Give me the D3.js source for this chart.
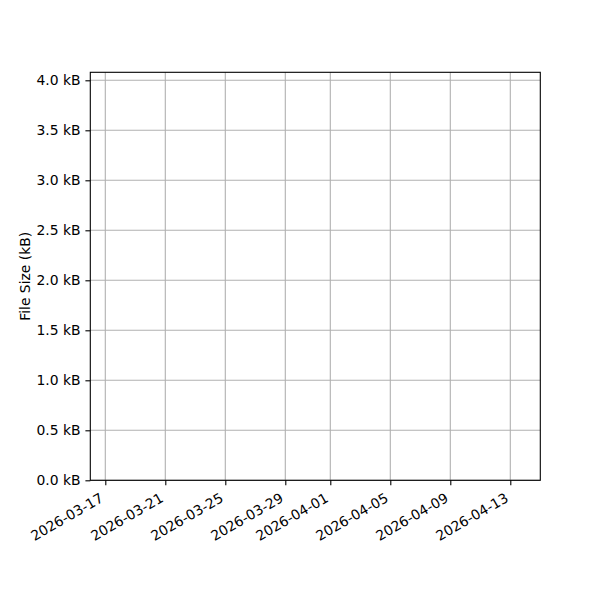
<!DOCTYPE html>
<html>
<head>
<meta charset="utf-8">
<script src="https://cdn.jsdelivr.net/npm/d3@7"></script>
<style>
  html, body { margin: 0; padding: 0; background: #fff; }
  text { font-family: "DejaVu Sans", sans-serif; }
</style>
</head>
<body>
<div id="chart"></div>
<script>
// Data (the reference shows empty axes: no recorded points)
const dates = [];
const fileSizesKB = [];

const xTickLabels = ["2026-03-17", "2026-03-21", "2026-03-25", "2026-03-29",
                     "2026-04-01", "2026-04-05", "2026-04-09", "2026-04-13"];
const yTickValues = [0, 0.5, 1.0, 1.5, 2.0, 2.5, 3.0, 3.5, 4.0];
const xDomain = ["2026-03-16", "2026-04-15"];
const yDomain = [0, 4.08];

const W = 600, H = 600;
const margin = { left: 90.3, right: 59.7, top: 72.3, bottom: 119.7 };
const iw = W - margin.left - margin.right;
const ih = H - margin.top - margin.bottom;

const parse = d3.utcParse("%Y-%m-%d");
const x = d3.scaleUtc().domain(xDomain.map(parse)).range([0, iw]);
const y = d3.scaleLinear().domain(yDomain).range([ih, 0]);

const svg = d3.select("#chart").append("svg")
  .attr("width", W).attr("height", H);
const g = svg.append("g").attr("transform", `translate(${margin.left},${margin.top})`);

const xTicks = xTickLabels.map(parse);

// grid
g.append("g").selectAll("line.vg").data(xTicks).join("line")
  .attr("x1", d => x(d)).attr("x2", d => x(d))
  .attr("y1", 0).attr("y2", ih)
  .attr("stroke", "#b0b0b0").attr("stroke-width", 1.1);
g.append("g").selectAll("line.hg").data(yTickValues).join("line")
  .attr("x1", 0).attr("x2", iw)
  .attr("y1", d => y(d)).attr("y2", d => y(d))
  .attr("stroke", "#b0b0b0").attr("stroke-width", 1.1);

// data line (empty)
const line = d3.line().x((d, i) => x(parse(dates[i]))).y(d => y(d));
g.append("path").datum(fileSizesKB)
  .attr("fill", "none").attr("stroke", "#1f77b4").attr("stroke-width", 2)
  .attr("d", fileSizesKB.length ? line : null);

// x axis
const xAxis = d3.axisBottom(x).tickValues(xTicks).tickSize(4.9).tickFormat(d3.utcFormat("%Y-%m-%d"));
const xg = g.append("g").attr("transform", `translate(0,${ih})`).call(xAxis);
xg.select(".domain").remove();
xg.selectAll(".tick line").attr("stroke", "#000").attr("stroke-width", 1.1);
xg.selectAll(".tick text")
  .attr("font-size", 13.9).attr("fill", "#000")
  .attr("text-anchor", "end")
  .attr("y", 0).attr("dy", 0)
  .attr("transform", "translate(-1.5,20.5) rotate(-30)");

// y axis
const yAxis = d3.axisLeft(y).tickValues(yTickValues).tickSize(4.9).tickPadding(4.9)
  .tickFormat(d => d3.format(".1f")(d) + " kB");
const yg = g.append("g").call(yAxis);
yg.select(".domain").remove();
yg.selectAll(".tick line").attr("stroke", "#000").attr("stroke-width", 1.1);
yg.selectAll(".tick text").attr("font-size", 13.9).attr("fill", "#000");

// spines
g.append("rect").attr("x", 0).attr("y", 0).attr("width", iw).attr("height", ih)
  .attr("fill", "none").attr("stroke", "#000").attr("stroke-width", 1.1);

// y label
svg.append("text")
  .attr("transform", `translate(30,${margin.top + ih / 2}) rotate(-90)`)
  .attr("text-anchor", "middle")
  .attr("font-size", 13.9).attr("fill", "#000")
  .text("File Size (kB)");
</script>
</body>
</html>
